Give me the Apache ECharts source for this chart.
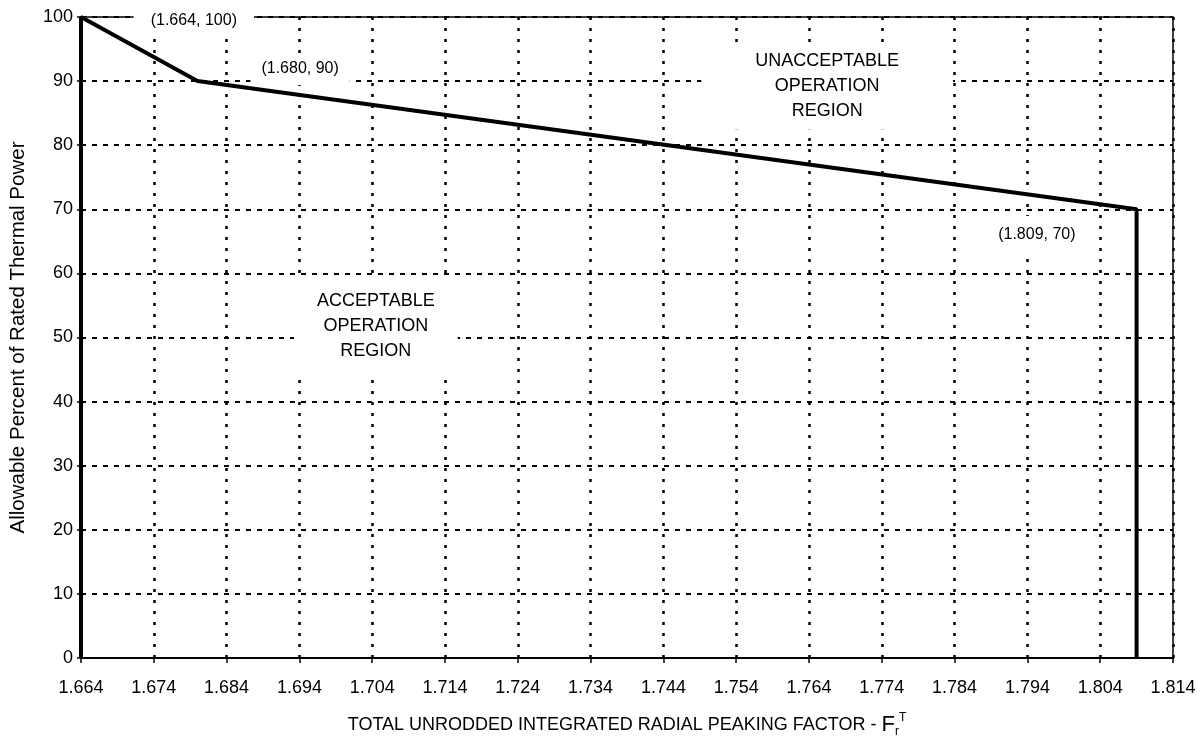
<!DOCTYPE html>
<html>
<head>
<meta charset="utf-8">
<script src="https://cdn.jsdelivr.net/npm/echarts@6/dist/echarts.min.js"></script>
<style>
html,body{margin:0;padding:0;background:#fff;}
#chart{width:1204px;height:746px;}
</style>
</head>
<body>
<div id="chart"></div>
<script>
// ---- data ----
const xOrigin = 1.664;
const xTickLabels = ['1.664','1.674','1.684','1.694','1.704','1.714','1.724','1.734','1.744','1.754','1.764','1.774','1.784','1.794','1.804','1.814'];
const yTickValues = [0,10,20,30,40,50,60,70,80,90,100];
const curveX = [1.664, 1.664, 1.680, 1.809, 1.809];
const curveY = [0, 100, 90, 70, 0];
const pointLabels = ['(1.664, 100)', '(1.680, 90)', '(1.809, 70)'];
const pointLabelX = [1.6795, 1.6941, 1.7953];
const pointLabelY = [99.5, 91.9, 66.0];
const regionLabels = ['UNACCEPTABLE\nOPERATION\nREGION', 'ACCEPTABLE\nOPERATION\nREGION'];
const regionLabelX = [1.7665, 1.7045];
const regionLabelY = [89.2, 51.8];
const yTitle = 'Allowable Percent of Rated Thermal Power';
const xTitle = 'TOTAL UNRODDED INTEGRATED RADIAL PEAKING FACTOR - ';

// axis works in thousandths offset from xOrigin so ticks start at 1.664
const toAxis = x => Math.round((x - xOrigin) * 1000000) / 1000;

const FONT = '"Liberation Sans", Arial, sans-serif';
const chart = echarts.init(document.getElementById('chart'), null, {renderer: 'canvas'});

const pointPads = [[9, 17], [7, 11], [10, 12]];
const regionPads = [[6, 54], [10, 23]];

const markData = [];
pointLabels.forEach((t, i) => {
  markData.push({
    coord: [toAxis(pointLabelX[i]), pointLabelY[i]],
    label: {formatter: t, fontSize: 16, lineHeight: 18, padding: pointPads[i]}
  });
});
regionLabels.forEach((t, i) => {
  markData.push({
    coord: [toAxis(regionLabelX[i]), regionLabelY[i]],
    label: {formatter: t, fontSize: 18, lineHeight: 25, padding: regionPads[i]}
  });
});

chart.setOption({
  backgroundColor: '#fff',
  animation: false,
  grid: {left: 79, right: 31, top: 17, bottom: 88, show: true, borderColor: '#000', borderWidth: 1.5, backgroundColor: 'transparent'},
  xAxis: {
    type: 'value', min: 0, max: 150, interval: 10,
    name: xTitle + '{F|F}{r|r}{T|T}',
    nameLocation: 'middle', nameGap: 54,
    nameTextStyle: {
      fontFamily: FONT, fontSize: 18, color: '#000',
      rich: {
        F: {fontFamily: FONT, fontSize: 22, color: '#000'},
        r: {fontFamily: FONT, fontSize: 12, color: '#000', verticalAlign: 'bottom', padding: [14, 0, 0, 0]},
        T: {fontFamily: FONT, fontSize: 12, color: '#000', verticalAlign: 'top', padding: [0, 0, 14, 0]}
      }
    },
    axisLine: {lineStyle: {color: '#000', width: 2}},
    axisTick: {show: true, length: 5, lineStyle: {color: '#000', width: 1.5}},
    axisLabel: {
      margin: 21, fontFamily: FONT, fontSize: 18, color: '#000',
      formatter: v => xTickLabels[Math.round(v / 10)] || ''
    },
    splitLine: {show: true, lineStyle: {color: '#000', width: 2.5, type: [3, 8]}}
  },
  yAxis: {
    type: 'value', min: 0, max: 100, interval: 10,
    name: yTitle, nameLocation: 'middle', nameGap: 52,
    nameTextStyle: {fontFamily: FONT, fontSize: 20.5, color: '#000'},
    axisLine: {lineStyle: {color: '#000', width: 1.5}},
    axisTick: {show: true, length: 4, lineStyle: {color: '#000', width: 1.5}},
    axisLabel: {margin: 8, fontFamily: FONT, fontSize: 18, color: '#000',
      formatter: v => yTickValues.indexOf(v) >= 0 ? String(v) : ''},
    splitLine: {show: true, lineStyle: {color: '#000', width: 2, type: [5, 6]}}
  },
  series: [
    {
      type: 'line', z: 10,
      data: curveX.map((x, i) => [toAxis(x), curveY[i]]),
      symbol: 'none',
      lineStyle: {color: '#000', width: 4},
      silent: true
    },
    {
      type: 'scatter', data: [], z: 3, silent: true,
      markPoint: {
        z: 3,
        symbol: 'rect', symbolSize: 0,
        silent: true,
        label: {
          show: true, position: 'inside', color: '#000', fontFamily: FONT,
          backgroundColor: '#fff', align: 'center', verticalAlign: 'middle'
        },
        data: markData
      }
    }
  ]
});
</script>
</body>
</html>
